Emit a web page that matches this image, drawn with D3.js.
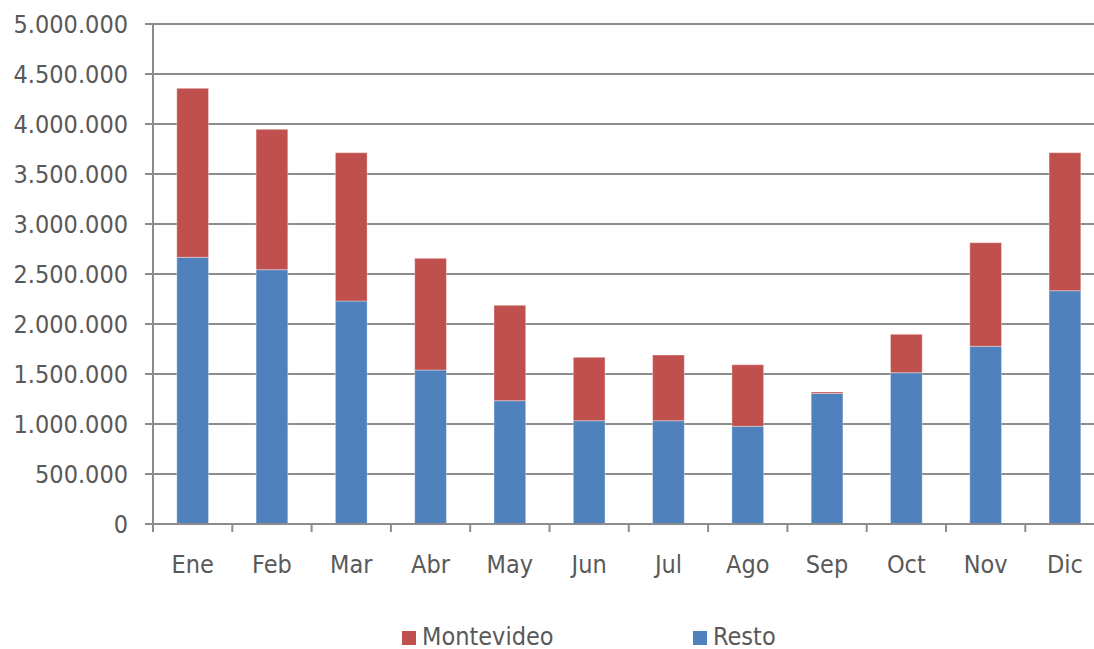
<!DOCTYPE html>
<html><head><meta charset="utf-8">
<script src="https://cdn.jsdelivr.net/npm/d3@7"></script>
<style>
html,body{margin:0;padding:0;background:#fff;overflow:hidden}
text{font-family:"DejaVu Sans Condensed","DejaVu Sans",sans-serif;fill:#595959}
</style></head><body>
<svg id="c" width="1094" height="649"></svg>
<script>
const months = ["Ene","Feb","Mar","Abr","May","Jun","Jul","Ago","Sep","Oct","Nov","Dic"];
const resto = [2667000,2543000,2230000,1540000,1233000,1033000,1033000,977000,1305000,1513000,1777000,2333000];
const montevideo = [1690000,1404000,1483000,1117000,954000,634000,657000,616000,15000,384000,1036000,1380000];
const yTicks = [0,500000,1000000,1500000,2000000,2500000,3000000,3500000,4000000,4500000,5000000];
const seriesNames = ["Montevideo","Resto"];
const colors = {Montevideo:"#C0504D", Resto:"#4F81BD"};

const svg = d3.select("#c");
const pLeft = 153, pRight = 1104.6, pTop = 24, pBottom = 524;
const x = d3.scaleBand().domain(months).range([pLeft,pRight]).paddingInner(0.6).paddingOuter(0.3);
const y = d3.scaleLinear().domain([0,5000000]).range([pBottom,pTop]);
const fmt = v => d3.format(",")(v).replace(/,/g,".");

// gridlines
svg.append("g").selectAll("line").data(yTicks.filter(d=>d>0)).join("line")
  .attr("x1",145).attr("x2",1094).attr("y1",d=>y(d)).attr("y2",d=>y(d))
  .attr("stroke","#8c8c8c").attr("stroke-width",2);

// y labels
svg.append("g").selectAll("text").data(yTicks).join("text")
  .attr("x",128).attr("y",d=>y(d)+9).attr("text-anchor","end")
  .style("font-size","25px").text(fmt);

// stacked bars
const table = months.map((m,i)=>({month:m, Resto:resto[i], Montevideo:montevideo[i]}));
const stack = d3.stack().keys(["Resto","Montevideo"])(table);
svg.append("g").selectAll("g").data(stack).join("g")
  .attr("fill",d=>colors[d.key])
  .selectAll("rect").data(d=>d).join("rect")
  .attr("x",d=>x(d.data.month)).attr("width",x.bandwidth())
  .attr("y",d=>y(d[1])).attr("height",d=>y(d[0])-y(d[1]))
  .attr("stroke","rgba(255,255,255,0.35)").attr("stroke-width",1);

// axes lines
svg.append("line").attr("x1",pLeft).attr("x2",pLeft).attr("y1",pTop).attr("y2",pBottom)
  .attr("stroke","#8c8c8c").attr("stroke-width",2);
svg.append("line").attr("x1",145).attr("x2",1094).attr("y1",pBottom).attr("y2",pBottom)
  .attr("stroke","#8c8c8c").attr("stroke-width",2);
// x ticks at band boundaries
const step = x.step();
svg.append("g").selectAll("line").data(d3.range(months.length+1)).join("line")
  .attr("x1",i=>pLeft+i*step).attr("x2",i=>pLeft+i*step).attr("y1",pBottom).attr("y2",pBottom+8)
  .attr("stroke","#8c8c8c").attr("stroke-width",2);
// x labels
svg.append("g").selectAll("text").data(months).join("text")
  .attr("x",d=>x(d)+x.bandwidth()/2).attr("y",573).attr("text-anchor","middle")
  .style("font-size","25px").text(d=>d);

// legend
const legX = [402,693];
const lg = svg.append("g").selectAll("g").data(seriesNames).join("g")
  .attr("transform",(d,i)=>`translate(${legX[i]},631)`);
lg.append("rect").attr("width",14).attr("height",14).attr("fill",d=>colors[d]);
lg.append("text").attr("x",20).attr("y",14).style("font-size","25px").text(d=>d);
</script></body></html>
